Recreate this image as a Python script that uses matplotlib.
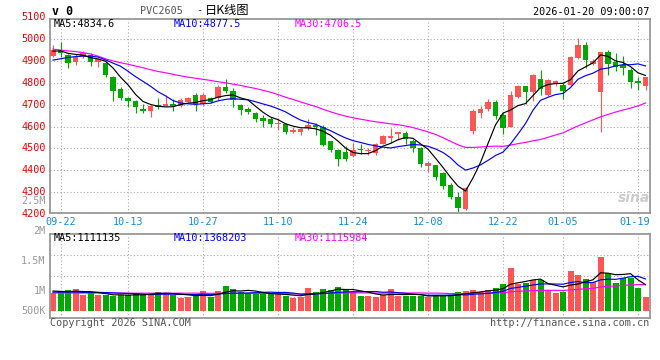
import numpy as np
import pandas as pd
import matplotlib
matplotlib.use('Agg')
import matplotlib.pyplot as plt
import matplotlib.transforms as mtransforms

# ---------------- data ----------------
opens = [4924, 4950, 4927, 4897, 4922, 4927, 4894, 4889, 4828, 4770,
         4729, 4717, 4681, 4673, 4698, 4696, 4704, 4694, 4714, 4742,
         4704, 4729, 4729, 4780, 4764, 4699, 4680, 4661, 4641, 4633,
         4611, 4612, 4573, 4573, 4591, 4608, 4600, 4532, 4494, 4482,
         4465, 4499, 4486, 4479, 4521, 4547, 4565, 4571, 4533, 4503,
         4419, 4422, 4386, 4331, 4278, 4222, 4579, 4663, 4678, 4711,
         4652, 4599, 4736, 4784, 4757, 4819, 4746, 4796, 4792, 4792,
         4913, 4974, 4886, 4757, 4941, 4894, 4883, 4857, 4807, 4787]
highs = [4975, 4985, 4932, 4932, 4947, 4935, 4912, 4895, 4831, 4780,
         4737, 4722, 4704, 4699, 4731, 4745, 4725, 4729, 4737, 4755,
         4752, 4737, 4790, 4816, 4775, 4704, 4691, 4668, 4653, 4642,
         4638, 4618, 4597, 4592, 4633, 4615, 4605, 4535, 4497, 4509,
         4524, 4521, 4502, 4524, 4561, 4595, 4577, 4579, 4541, 4506,
         4442, 4425, 4392, 4343, 4301, 4325, 4678, 4696, 4728, 4720,
         4663, 4761, 4792, 4787, 4840, 4857, 4818, 4815, 4799, 4924,
         5005, 4989, 4909, 4941, 4951, 4936, 4924, 4868, 4825, 4825]
lows = [4919, 4916, 4866, 4881, 4912, 4877, 4874, 4828, 4719, 4722,
        4691, 4664, 4661, 4643, 4679, 4694, 4669, 4691, 4710, 4669,
        4699, 4707, 4722, 4752, 4688, 4653, 4656, 4623, 4600, 4600,
        4582, 4568, 4570, 4562, 4585, 4562, 4509, 4482, 4418, 4441,
        4462, 4476, 4468, 4471, 4518, 4524, 4539, 4518, 4483, 4416,
        4392, 4356, 4316, 4267, 4207, 4219, 4568, 4640, 4670, 4635,
        4568, 4599, 4731, 4701, 4716, 4742, 4739, 4784, 4726, 4784,
        4909, 4868, 4883, 4574, 4837, 4853, 4837, 4777, 4766, 4769]
closes = [4950, 4935, 4889, 4919, 4938, 4894, 4907, 4836, 4764, 4729,
          4719, 4688, 4673, 4696, 4688, 4704, 4692, 4722, 4729, 4704,
          4745, 4714, 4780, 4764, 4721, 4676, 4668, 4635, 4626, 4611,
          4618, 4573, 4582, 4588, 4608, 4597, 4517, 4491, 4453, 4451,
          4494, 4491, 4492, 4520, 4555, 4555, 4577, 4541, 4503, 4427,
          4435, 4371, 4328, 4278, 4225, 4321, 4673, 4682, 4711, 4650,
          4591, 4743, 4784, 4757, 4834, 4774, 4812, 4807, 4761, 4918,
          4974, 4906, 4898, 4941, 4886, 4872, 4868, 4804, 4799, 4825]
# volume in millions of lots
volumes = [0.776, 0.846, 0.888, 0.931, 0.677, 0.747, 0.677, 0.677, 0.649, 0.677,
           0.677, 0.747, 0.677, 0.747, 0.818, 0.776, 0.677, 0.564, 0.606, 0.635,
           0.846, 0.606, 0.846, 1.058, 0.931, 0.790, 0.747, 0.705, 0.747, 0.705,
           0.705, 0.649, 0.564, 0.606, 0.987, 0.818, 0.931, 0.888, 1.001, 0.917,
           0.818, 0.635, 0.649, 0.606, 0.677, 0.931, 0.635, 0.635, 0.649, 0.649,
           0.606, 0.677, 0.635, 0.677, 0.818, 0.846, 0.888, 0.818, 0.888, 0.987,
           1.142, 1.833, 1.128, 1.170, 1.311, 1.311, 0.888, 0.776, 0.818, 1.706,
           1.523, 1.354, 1.213, 2.298, 1.622, 1.199, 1.410, 1.382, 0.987, 0.606]

# moving-average values at the start of the window (need earlier history)
ma5_head = [4945, 4946, 4935, 4930]
ma10_head = [4904, 4910, 4916, 4920, 4922, 4922, 4918, 4905, 4890]
ma30_head = [4954, 4950, 4946, 4943, 4938, 4932, 4922, 4910, 4900, 4892,
             4885, 4877, 4869, 4860, 4852, 4846, 4839, 4832, 4826, 4821,
             4816, 4811, 4805, 4800, 4794, 4788, 4781, 4774, 4766]
vma5_head = [0.846, 0.83, 0.82, 0.84]
vma10_head = [0.80, 0.80, 0.80, 0.80, 0.79, 0.79, 0.79, 0.78, 0.77]
vma30_head = [0.76] * 10 + [0.755] * 10 + [0.75] * 9

date_idx = [1, 10, 20, 30, 40, 50, 60, 68, 78]
date_labels = ['09-22', '10-13', '10-27', '11-10', '11-24', '12-08', '12-22', '01-05', '01-19']
price_ticks = [4200, 4300, 4400, 4500, 4600, 4700, 4800, 4900, 5000, 5100]
vol_tick_labels = ['2.5M', '2M', '1.5M', '1M', '500K']
vol_tick_py = [201, 231, 261, 291, 311]
price_ma_text = ['MA5:4834.6', 'MA10:4877.5', 'MA30:4706.5']
vol_ma_text = ['MA5:1111135', 'MA10:1368203', 'MA30:1115984']

# ---------------- derived series ----------------
n = len(closes)
x = np.arange(n)
o = np.array(opens, float); c = np.array(closes, float)
hi = np.array(highs, float); lo = np.array(lows, float)
vol = np.array(volumes, float)

def ma(series, w, head):
    s = pd.Series(series).rolling(w).mean().to_numpy()
    s[:len(head)] = head
    return s

ma5 = ma(c, 5, ma5_head); ma10 = ma(c, 10, ma10_head); ma30 = ma(c, 30, ma30_head)
vma5 = ma(vol, 5, vma5_head); vma10 = ma(vol, 10, vma10_head); vma30 = ma(vol, 30, vma30_head)

RED = '#ff5555'; GREEN = '#00a800'
up = c >= o
cols = np.where(up, RED, GREEN)

# ---------------- figure ----------------
W, H = 660, 360
fig = plt.figure(figsize=(W / 100, H / 100), dpi=100)
fig.patch.set_facecolor('white')
def fx(px): return px / W
def fy(py): return 1 - py / H

ax_p = fig.add_axes([fx(50), fy(213.3), fx(650) - fx(50), fy(19) - fy(213.3)])
ax_v = fig.add_axes([fx(50), fy(317.7), fx(650) - fx(50), fy(234.3) - fy(317.7)])

XL = (-0.4, 79.6)
ax_p.set_xlim(*XL); ax_v.set_xlim(*XL)
ax_p.set_ylim(4203, 5092)
ax_v.set_ylim(-0.284, 3.25)

GRID = dict(color='#aaaaaa', lw=0.8, linestyle=(0, (1, 2)), zorder=0)
for v in price_ticks:
    ax_p.axhline(v, **GRID)
for d in date_idx:
    ax_p.axvline(d, **GRID)
    ax_v.axvline(d, **GRID)
y0, y1 = ax_v.get_ylim()
for f in (0.25, 0.5, 0.75):
    ax_v.axhline(y0 + f * (y1 - y0), **GRID)

for a in (ax_p, ax_v):
    a.set_xticks([]); a.set_yticks([])
    for s in a.spines.values():
        s.set_color('#999999'); s.set_linewidth(1.3)
    a.set_facecolor('white')

# candles
ax_p.vlines(x, lo, hi, colors=cols, lw=0.8, zorder=2)
body_h = np.maximum(np.abs(c - o), 4.0)
ax_p.bar(x, body_h, bottom=np.minimum(o, c), width=0.74, color=cols, lw=0, zorder=3)

# price MAs
ax_p.plot(x, ma30, color='#ff00ff', lw=0.85, zorder=4)
ax_p.plot(x, ma10, color='#0000ff', lw=0.85, zorder=4)
ax_p.plot(x, ma5, color='black', lw=0.85, zorder=5)

# volume
ax_v.bar(x, vol, width=0.8, color=cols, lw=0, zorder=2)
ax_v.plot(x, vma30, color='#ff00ff', lw=0.85, zorder=4)
ax_v.plot(x, vma10, color='#0000ff', lw=0.85, zorder=4)
ax_v.plot(x, vma5, color='black', lw=0.85, zorder=5)

MONO = 'DejaVu Sans Mono'
FS = 7.3

# price axis labels
tr = mtransforms.blended_transform_factory(ax_p.transAxes, ax_p.transData)
for v in price_ticks:
    ax_p.text(-0.007, v, str(v), transform=tr, ha='right', va='center',
              color='#ee0000', family=MONO, fontsize=FS, clip_on=False)
for lab, py in zip(vol_tick_labels, vol_tick_py):
    fig.text(fx(45.7), fy(py), lab, ha='right', va='center', color='#999999',
             family=MONO, fontsize=FS)

# date labels
trd = mtransforms.blended_transform_factory(ax_p.transData, fig.transFigure)
for i, (d, lab) in enumerate(zip(date_idx, date_labels)):
    xd = d if i < len(date_idx) - 1 else d - 0.4
    ax_p.text(xd, fy(221.7), lab, transform=trd, ha='center', va='center',
              color='#1a8ad4', family=MONO, fontsize=FS, clip_on=False)

# header
fig.text(fx(52), fy(11.7), 'v 0', ha='left', va='center', family=MONO,
         fontsize=8.4, weight='bold', color='black')
fig.text(fx(140), fy(10.5), 'PVC2605', ha='left', va='center', family=MONO,
         fontsize=FS, color='#555555')
fig.text(fx(199.5), fy(10.5), '-', ha='center', va='center', family=MONO,
         fontsize=FS, color='#222222')
fig.text(fx(205), fy(10.5), '日K线图', ha='left', va='center',
         family=['Noto Sans CJK SC', 'DejaVu Sans'], fontsize=8.8, color='black')
fig.text(fx(649), fy(11.7), '2026-01-20 09:00:07', ha='right', va='center',
         family=MONO, fontsize=FS, color='black')

ma_cols = ['black', '#0000ff', '#ff00ff']
ma_px = [54, 174, 295]
for t, col, px in zip(price_ma_text, ma_cols, ma_px):
    fig.text(fx(px), fy(24), t, ha='left', va='center', family=MONO, fontsize=FS, color=col)
for t, col, px in zip(vol_ma_text, ma_cols, ma_px):
    fig.text(fx(px), fy(238.3), t, ha='left', va='center', family=MONO, fontsize=FS, color=col)

# footer
fig.text(fx(50), fy(323.5), 'Copyright 2026 SINA.COM', ha='left', va='center',
         family=MONO, fontsize=FS, color='#555555')
fig.text(fx(649), fy(323.5), 'http://finance.sina.com.cn', ha='right', va='center',
         family=MONO, fontsize=FS, color='#555555')

# watermark
fig.text(fx(634), fy(198), 'sina', ha='center', va='center', family='DejaVu Sans',
         fontsize=10, weight='bold', style='italic', color='#cccccc', zorder=0)

fig.savefig('out.png', dpi=100, facecolor='white')
